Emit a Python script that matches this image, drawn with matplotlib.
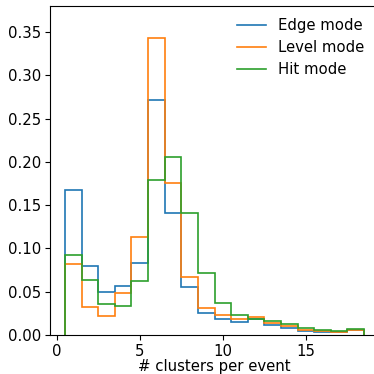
import numpy as np
import matplotlib
matplotlib.use("Agg")
import matplotlib.pyplot as plt
from matplotlib.lines import Line2D

# fraction of events per cluster multiplicity (bins centred on 1..18)
n_clusters = np.arange(1, 19)
edge_mode = [0.168, 0.080, 0.050, 0.057, 0.083, 0.272, 0.141, 0.055, 0.025,
             0.018, 0.015, 0.018, 0.012, 0.008, 0.005, 0.0035, 0.004, 0.0058]
level_mode = [0.082, 0.032, 0.022, 0.049, 0.113, 0.343, 0.175, 0.067, 0.031,
              0.023, 0.019, 0.021, 0.014, 0.010, 0.006, 0.0043, 0.004, 0.0058]
hit_mode = [0.092, 0.064, 0.036, 0.034, 0.062, 0.179, 0.206, 0.141, 0.072,
            0.037, 0.0235, 0.019, 0.0166, 0.0127, 0.008, 0.0062, 0.0046, 0.0065]
labels = ["Edge mode", "Level mode", "Hit mode"]

bins = np.arange(0.5, 19.5, 1.0)

plt.rcParams["font.size"] = 10.7
fig = plt.figure(figsize=(3.74, 3.74), dpi=100)
ax = fig.add_axes([50 / 374, 39 / 374, 329 / 374, 329 / 374])

handles = []
for vals, lab in zip([edge_mode, level_mode, hit_mode], labels):
    _, _, patches = ax.hist(n_clusters, bins=bins, weights=vals,
                            histtype="step", linewidth=1.2)
    handles.append(Line2D([], [], color=patches[0].get_edgecolor(),
                          linewidth=1.2, label=lab))

ax.set_xlim(-0.4, 19.4)
ax.set_ylim(0, 0.38)
ax.set_xticks([0, 5, 10, 15])
ax.set_yticks(np.arange(0, 0.36, 0.05))
ax.yaxis.set_major_formatter(matplotlib.ticker.FormatStrFormatter("%.2f"))
ax.tick_params(pad=3)
ax.set_xlabel("# clusters per event", labelpad=0)

ax.legend(handles=handles, loc="upper right",
          bbox_to_anchor=(378 / 374, 1 - 5 / 374),
          bbox_transform=fig.transFigure, frameon=False,
          handlelength=2.0, labelspacing=0.45)

fig.savefig("out.png", dpi=100)
